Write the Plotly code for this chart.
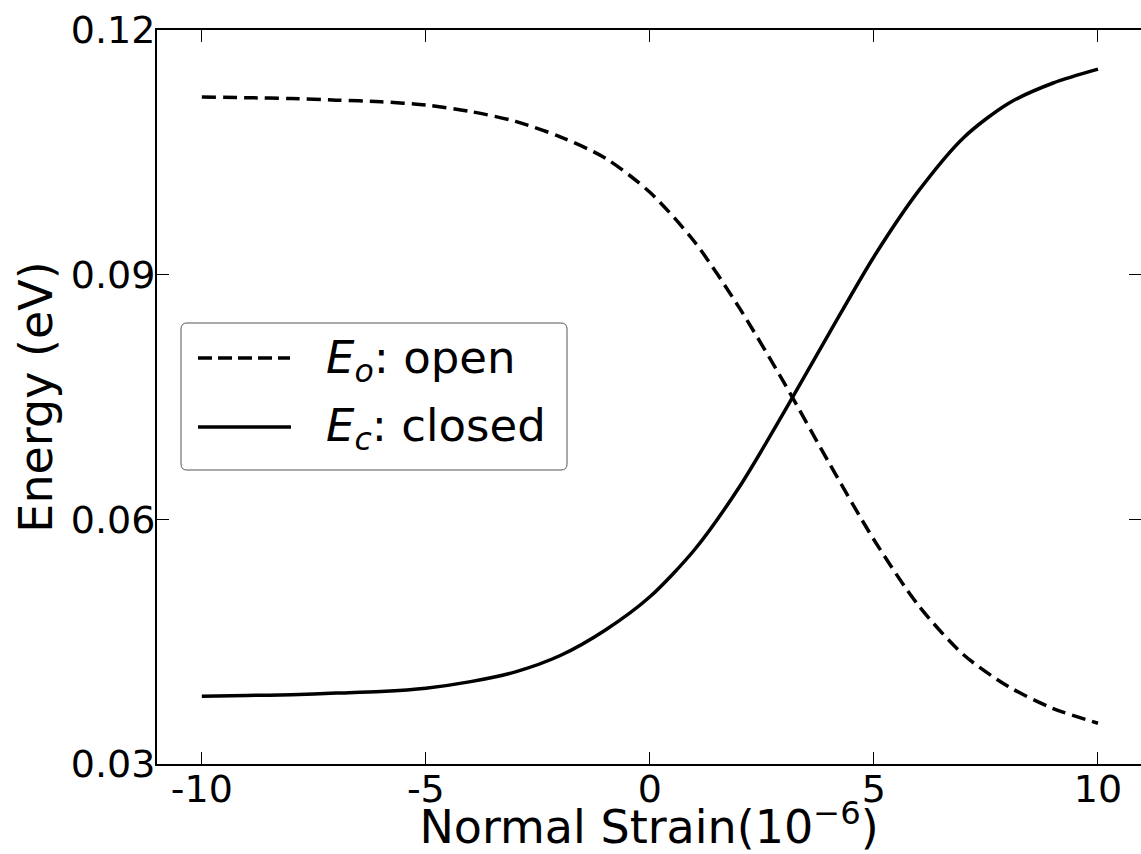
import plotly.graph_objects as go

# ---- data ----
strain = [-10, -9, -8, -7, -6, -5, -4, -3, -2, -1, 0, 1, 2, 3, 4, 5, 6, 7, 8, 9, 10]
energy_open = [0.1118, 0.1117, 0.1116, 0.1114, 0.1112, 0.1108, 0.1100, 0.1088, 0.1069, 0.1043,
               0.1001, 0.0940, 0.0859, 0.0767, 0.0669, 0.0575, 0.0494, 0.0434, 0.0395, 0.0368, 0.0350]
energy_closed = [0.0383, 0.0384, 0.0385, 0.0387, 0.0389, 0.0393, 0.0401, 0.0413, 0.0433, 0.0464,
                 0.0505, 0.0563, 0.0640, 0.0732, 0.0828, 0.0922, 0.1003, 0.1068, 0.1110, 0.1135, 0.1152]

x_tick_vals = [-10, -5, 0, 5, 10]
x_tick_text = ["-10", "-5", "0", "5", "10"]
y_tick_vals = [0.03, 0.06, 0.09, 0.12]
y_tick_text = ["0.03", "0.06", "0.09", "0.12"]

label_open = "<i>E</i><sub><i>o</i></sub>: open"
label_closed = "<i>E</i><sub><i>c</i></sub>: closed"

# ---- layout geometry (pixels) ----
W, H = 1141, 854
ML, MR, MT, MB = 157, 0, 30, 90
PW, PH = W - ML - MR, H - MT - MB


def px(xp):
    return (xp - ML) / PW


def py(yp):
    return (H - MB - yp) / PH


FONT = "DejaVu Sans"

fig = go.Figure()
fig.add_trace(go.Scatter(x=strain, y=energy_open, mode="lines", name="E_o: open",
                         line=dict(color="black", width=3.5, dash="14px,7px", shape="spline",
                                   smoothing=0.8),
                         showlegend=False))
fig.add_trace(go.Scatter(x=strain, y=energy_closed, mode="lines", name="E_c: closed",
                         line=dict(color="black", width=3.5, shape="spline", smoothing=0.8),
                         showlegend=False))
# helper trace for the right-hand tick axis
fig.add_trace(go.Scatter(x=[strain[0]], y=[energy_open[0]], yaxis="y2", mode="lines",
                         line=dict(width=0), showlegend=False, hoverinfo="skip"))

# ---- custom legend ----
bx0, bx1, by0, by1, r = 181, 567, 323, 470, 6
rx, ry = r / PW, r / PH
X0, X1, Y0, Y1 = px(bx0), px(bx1), py(by1), py(by0)
path = (f"M {X0+rx},{Y0} L {X1-rx},{Y0} Q {X1},{Y0} {X1},{Y0+ry} "
        f"L {X1},{Y1-ry} Q {X1},{Y1} {X1-rx},{Y1} "
        f"L {X0+rx},{Y1} Q {X0},{Y1} {X0},{Y1-ry} "
        f"L {X0},{Y0+ry} Q {X0},{Y0} {X0+rx},{Y0} Z")
shapes = [
    dict(type="path", xref="paper", yref="paper", path=path,
         line=dict(color="#555555", width=1), fillcolor="white", layer="above"),
    dict(type="line", xref="paper", yref="paper", x0=px(198), x1=px(290), y0=py(358), y1=py(358),
         line=dict(color="black", width=3.5, dash="14px,6px"), layer="above"),
    dict(type="line", xref="paper", yref="paper", x0=px(198), x1=px(291), y0=py(427), y1=py(427),
         line=dict(color="black", width=3.5), layer="above"),
]
annotations = [
    dict(xref="paper", yref="paper", x=px(324), y=py(360), text=label_open, showarrow=False,
         xanchor="left", yanchor="middle", font=dict(family=FONT, size=45, color="black")),
    dict(xref="paper", yref="paper", x=px(324), y=py(428), text=label_closed, showarrow=False,
         xanchor="left", yanchor="middle", font=dict(family=FONT, size=45, color="black")),
]

fig.update_layout(
    width=W, height=H,
    margin=dict(l=ML, r=MR, t=MT, b=MB, pad=0),
    paper_bgcolor="white", plot_bgcolor="white",
    font=dict(family=FONT, color="black"),
    shapes=shapes, annotations=annotations,
    xaxis=dict(range=[-11, 10.96], showline=True, linewidth=2, linecolor="black",
               mirror="ticks", ticks="inside", ticklen=12, tickwidth=1, tickcolor="black",
               tickvals=x_tick_vals, ticktext=x_tick_text, tickfont=dict(size=38),
               ticklabelstandoff=-10, automargin=False,
               showgrid=False, zeroline=False,
               title=dict(text="Normal Strain(10<sup>−6</sup>)", font=dict(size=46), standoff=4)),
    yaxis=dict(range=[0.03, 0.12], showline=True, linewidth=2, linecolor="black",
               ticks="inside", ticklen=12, tickwidth=1, tickcolor="black",
               tickvals=y_tick_vals, ticktext=y_tick_text, tickfont=dict(size=38),
               ticklabelstandoff=-8, automargin=False,
               showgrid=False, zeroline=False,
               title=dict(text="Energy (eV)", font=dict(size=46), standoff=4)),
    yaxis2=dict(overlaying="y", side="right", matches="y", ticks="inside", ticklen=12,
                tickwidth=1, tickcolor="black", tickvals=y_tick_vals, showticklabels=False,
                showline=False, showgrid=False, zeroline=False),
)

fig.write_html("out.html")
